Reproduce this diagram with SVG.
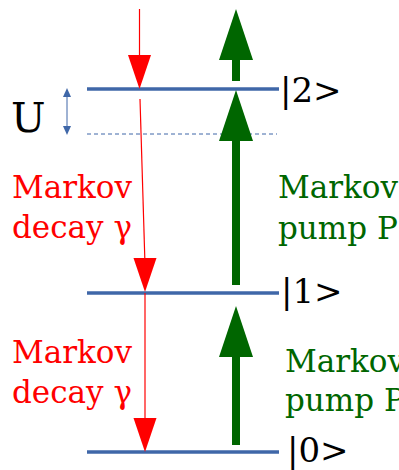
<svg xmlns="http://www.w3.org/2000/svg" width="399" height="470" viewBox="0 0 399 470">
<style>
.lvl{stroke:#3F67A8;stroke-width:3.5;fill:none}
.dash{stroke:#3F67A8;stroke-width:1;stroke-dasharray:4,3;fill:none}
.rl{stroke:#FF0000;stroke-width:1.2;fill:none}
.rh{fill:#FF0000}
.gh{fill:#006600}
.lab{font-family:"DejaVu Serif",serif;font-size:34px;fill:#000000}
.uu{font-family:"DejaVu Serif",serif;font-size:41px;fill:#000000}
.red{font-family:"DejaVu Serif",serif;font-size:31px;fill:#FF0000}
.grn{font-family:"DejaVu Serif",serif;font-size:31px;fill:#006600}
</style>
<defs>
<polygon id="rhead" points="-11.5,-34 11.5,-34 0,0"/>
<polygon id="ghead" points="-17,51 17,51 0,0"/>
</defs>
<rect width="399" height="470" fill="#fff"/>
<g id="level2">
<line class="lvl" x1="87" y1="89" x2="279" y2="89"/>
<text class="lab" x="280" y="102">|2&gt;</text>
</g>
<g id="levelU">
<line class="dash" x1="87" y1="134" x2="277" y2="134"/>
<text class="uu" x="11" y="132">U</text>
</g>
<g id="level1">
<line class="lvl" x1="87" y1="293" x2="279" y2="293"/>
<text class="lab" x="281" y="303">|1&gt;</text>
</g>
<g id="level0">
<line class="lvl" x1="87" y1="452" x2="279" y2="452"/>
<text class="lab" x="287" y="462">|0&gt;</text>
</g>
<g id="labels">
<text class="red" x="12" y="198">Markov</text>
<text class="red" x="12" y="238">decay γ</text>
<text class="red" x="12" y="363">Markov</text>
<text class="red" x="12" y="403">decay γ</text>
<text class="grn" x="278" y="198">Markov</text>
<text class="grn" x="278" y="239">pump P</text>
<text class="grn" x="285" y="372">Markov</text>
<text class="grn" x="285" y="411">pump P</text>
</g>
<g id="connectors">
<line x1="67" y1="94" x2="67" y2="129" stroke="#3F67A8" stroke-width="1"/>
<polygon points="67,88 63,97 71,97" fill="#3F67A8"/>
<polygon points="67,135 63,126 71,126" fill="#3F67A8"/>
<line class="rl" x1="139.5" y1="9" x2="139.5" y2="60"/>
<use href="#rhead" class="rh" x="139.5" y="89"/>
<line class="rl" x1="140" y1="99" x2="145" y2="265"/>
<use href="#rhead" class="rh" x="145" y="292"/>
<line class="rl" x1="145" y1="293" x2="145" y2="425"/>
<use href="#rhead" class="rh" x="145" y="452"/>
<rect class="gh" x="232" y="58" width="8" height="23"/>
<use href="#ghead" class="gh" x="236" y="9"/>
<rect class="gh" x="232" y="138" width="8" height="147"/>
<use href="#ghead" class="gh" x="236" y="90"/>
<rect class="gh" x="232" y="354" width="8" height="91"/>
<use href="#ghead" class="gh" x="236" y="306"/>
</g>
</svg>
